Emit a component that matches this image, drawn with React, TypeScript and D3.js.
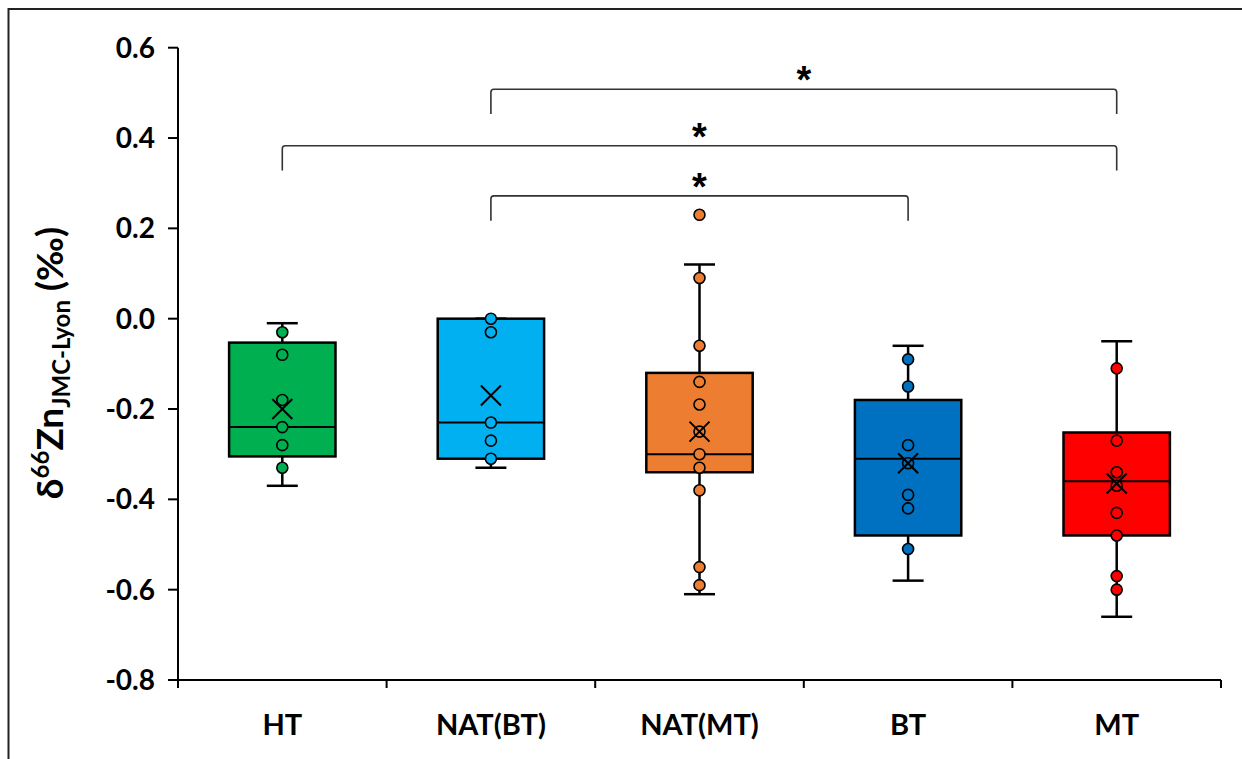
import React from "react";
import * as d3 from "d3";

// groups + colours
const categories = ["HT", "NAT(BT)", "NAT(MT)", "BT", "MT"];
const colors = ["#00B050", "#00B0F0", "#ED7D31", "#0070C0", "#FF0000"];

// individual samples (‰)
const pointsHT = [-0.03, -0.08, -0.18, -0.24, -0.28, -0.33];
const pointsNATBT = [0.0, -0.03, -0.23, -0.27, -0.31];
const pointsNATMT = [0.23, 0.09, -0.06, -0.14, -0.19, -0.25, -0.3, -0.33, -0.38, -0.55, -0.59];
const pointsBT = [-0.09, -0.15, -0.28, -0.32, -0.39, -0.42, -0.51];
const pointsMT = [-0.11, -0.27, -0.34, -0.37, -0.43, -0.48, -0.57, -0.6];
const points = [pointsHT, pointsNATBT, pointsNATMT, pointsBT, pointsMT];

// box stats
const whiskerHigh = [-0.01, 0.0, 0.12, -0.06, -0.05];
const q3 = [-0.053, 0.0, -0.12, -0.18, -0.252];
const median = [-0.24, -0.23, -0.3, -0.31, -0.36];
const q1 = [-0.305, -0.31, -0.34, -0.48, -0.48];
const whiskerLow = [-0.37, -0.33, -0.61, -0.58, -0.66];
const mean = [-0.2, -0.17, -0.25, -0.32, -0.365];

// y-axis ticks
const yTicks = [0.6, 0.4, 0.2, 0.0, -0.2, -0.4, -0.6, -0.8];

// significance brackets
const bracketFrom = ["NAT(BT)", "HT", "NAT(BT)"];
const bracketTo = ["MT", "MT", "BT"];
const bracketLevel = [0.508, 0.383, 0.272];
const bracketDrop = 0.055;

const W = 1242;
const H = 759;
const FONT = "Lato, 'Open Sans', sans-serif";

const App = () => {
  const x = d3
    .scaleBand()
    .domain(categories)
    .range([178, 1221])
    .paddingInner(0.49)
    .paddingOuter(0.245);
  const y = d3.scaleLinear().domain([-0.8, 0.6]).range([680, 47.7]);
  const bw = x.bandwidth();
  const cx = (c: string) => (x(c) as number) + bw / 2;
  const step = x.step();
  const x0 = x.range()[0];
  const boundaries = d3.range(categories.length + 1).map((i) => x0 + i * step);
  const fmt = (t: number) => d3.format(".1f")(t).replace("−", "-");

  const bracketPath = (a: number, b: number, top: number, bot: number) => {
    const r = 3;
    return `M${a},${bot}L${a},${top + r}Q${a},${top} ${a + r},${top}L${b - r},${top}Q${b},${top} ${b},${top + r}L${b},${bot}`;
  };

  return (
    <div style={{ position: "fixed", left: 0, top: 0 }}>
      <svg width={W} height={H} style={{ display: "block", background: "#fff" }}>
        {/* outer frame (cropped) */}
        <path d={`M8.5,${H}L8.5,9L${W},9`} fill="none" stroke="#222" strokeWidth={2} />

        {/* y axis */}
        <line x1={178} x2={178} y1={y(0.6)} y2={688} stroke="#000" strokeWidth={2} />
        {yTicks.map((t) => (
          <g key={t}>
            <line x1={168} x2={178} y1={y(t)} y2={y(t)} stroke="#000" strokeWidth={2} />
            <text
              x={155}
              y={y(t)}
              dy="0.36em"
              textAnchor="end"
              fontFamily={FONT}
              fontWeight={700}
              fontSize={28}
              fill="#000"
            >
              {fmt(t)}
            </text>
          </g>
        ))}

        {/* x axis */}
        <line x1={168} x2={boundaries[boundaries.length - 1]} y1={y(-0.8)} y2={y(-0.8)} stroke="#000" strokeWidth={2} />
        {boundaries.map((b, i) => (
          <line key={i} x1={b} x2={b} y1={y(-0.8)} y2={y(-0.8) + 8} stroke="#000" strokeWidth={2} />
        ))}
        {categories.map((c) => (
          <text
            key={c}
            x={cx(c)}
            y={735}
            textAnchor="middle"
            fontFamily={FONT}
            fontWeight={700}
            fontSize={29}
            fill="#000"
          >
            {c}
          </text>
        ))}

        {/* y label */}
        <text
          transform={`translate(63,363) rotate(-90)`}
          textAnchor="middle"
          fontFamily={FONT}
          fontWeight={700}
          fontSize={37}
          fill="#000"
        >
          δ<tspan fontSize={24} dy={-14}>66</tspan>
          <tspan dy={14}>Zn</tspan>
          <tspan fontSize={24} dy={7}>JMC-Lyon</tspan>
          <tspan dy={-7}> (‰)</tspan>
        </text>

        {/* boxes */}
        {categories.map((c, i) => {
          const mx = cx(c);
          const xl = x(c) as number;
          return (
            <g key={c}>
              <line x1={mx} x2={mx} y1={y(whiskerHigh[i])} y2={y(q3[i])} stroke="#000" strokeWidth={2.5} />
              <line x1={mx} x2={mx} y1={y(q1[i])} y2={y(whiskerLow[i])} stroke="#000" strokeWidth={2.5} />
              <line x1={mx - 15.5} x2={mx + 15.5} y1={y(whiskerHigh[i])} y2={y(whiskerHigh[i])} stroke="#000" strokeWidth={2.5} />
              <line x1={mx - 15.5} x2={mx + 15.5} y1={y(whiskerLow[i])} y2={y(whiskerLow[i])} stroke="#000" strokeWidth={2.5} />
              <rect
                x={xl}
                y={y(q3[i])}
                width={bw}
                height={y(q1[i]) - y(q3[i])}
                fill={colors[i]}
                stroke="#000"
                strokeWidth={2.5}
              />
              <line x1={xl} x2={xl + bw} y1={y(median[i])} y2={y(median[i])} stroke="#000" strokeWidth={2} />
              {points[i].map((v, j) => (
                <circle key={j} cx={mx} cy={y(v)} r={5.5} fill={colors[i]} stroke="#000" strokeWidth={1.6} />
              ))}
              <path
                d={`M${mx - 10},${y(mean[i]) - 10}L${mx + 10},${y(mean[i]) + 10}M${mx - 10},${y(mean[i]) + 10}L${mx + 10},${y(mean[i]) - 10}`}
                stroke="#000"
                strokeWidth={2}
                fill="none"
              />
            </g>
          );
        })}

        {/* brackets */}
        {bracketLevel.map((lv, i) => {
          const a = cx(bracketFrom[i]);
          const b = cx(bracketTo[i]);
          const top = y(lv);
          const bot = y(lv - bracketDrop);
          return (
            <g key={i}>
              <path d={bracketPath(a, b, top, bot)} fill="none" stroke="#333" strokeWidth={1.6} />
              <text
                x={(a + b) / 2}
                y={top + 4}
                textAnchor="middle"
                fontFamily="'Liberation Sans', Arial, sans-serif"
                fontWeight={700}
                fontSize={38}
                fill="#000"
              >
                *
              </text>
            </g>
          );
        })}
      </svg>
    </div>
  );
};

export default App;
